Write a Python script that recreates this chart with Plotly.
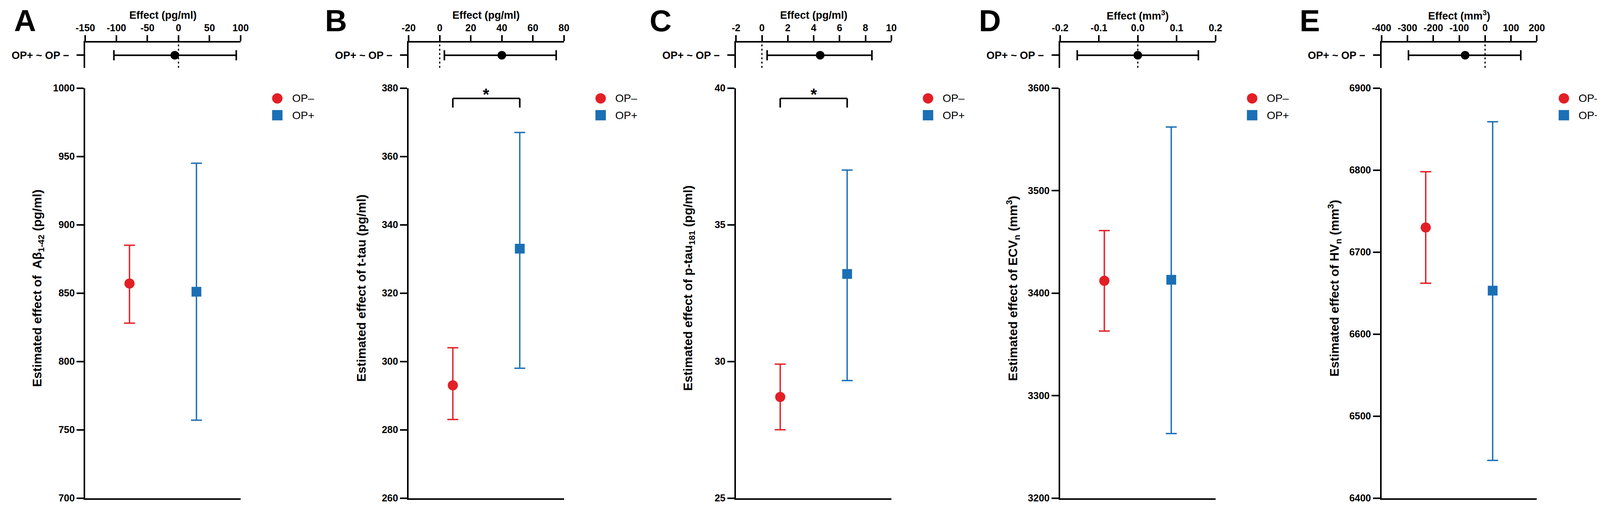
import plotly.graph_objects as go

W, H = 4153, 1306
# the page draws the plot a little in from the top-left corner,
# so positions measured on the reference are pulled back by this much
DX, DY = 12, 8
FONT = "Liberation Sans, Arial, sans-serif"
RED = "#e31f26"
BLUE = "#1b6fb5"

# panel data
panel_letters = ["A", "B", "C", "D", "E"]
effect_titles = ["Effect (pg/ml)", "Effect (pg/ml)", "Effect (pg/ml)",
                 "Effect (mm<sup>3</sup>)", "Effect (mm<sup>3</sup>)"]
y_titles = [
    "Estimated effect of  Aβ<sub>1-42</sub> (pg/ml)",
    "Estimated effect of t-tau (pg/ml)",
    "Estimated effect of p-tau<sub>181</sub> (pg/ml)",
    "Estimated effect of ECV<sub>n</sub> (mm<sup>3</sup>)",
    "Estimated effect of HV<sub>n</sub> (mm<sup>3</sup>)",
]
contrast_label = "OP+ ~ OP −"
group_labels = ["OP–", "OP+"]

# forest (difference) rows
effect_ticks = [
    [-150, -100, -50, 0, 50, 100],
    [-20, 0, 20, 40, 60, 80],
    [-2, 0, 2, 4, 6, 8, 10],
    [-0.2, -0.1, 0.0, 0.1, 0.2],
    [-400, -300, -200, -100, 0, 100, 200],
]
effect_est = [-6, 40, 4.5, 0.0, -77]
effect_ci_lo = [-104, 3, 0.4, -0.156, -296]
effect_ci_hi = [93, 75, 8.5, 0.156, 138]

# estimated means with 95% CI
opm_est = [857, 293, 28.7, 3412, 6730]
opm_lo = [828, 283, 27.5, 3363, 6662]
opm_hi = [885, 304, 29.9, 3461, 6798]
opp_est = [851, 333, 33.2, 3413, 6653]
opp_lo = [757, 298, 29.3, 3263, 6446]
opp_hi = [945, 367, 37.0, 3562, 6859]

y_ticks = [
    [700, 750, 800, 850, 900, 950, 1000],
    [260, 280, 300, 320, 340, 360, 380],
    [25, 30, 35, 40],
    [3200, 3300, 3400, 3500, 3600],
    [6400, 6500, 6600, 6700, 6800, 6900],
]
significant = [False, True, True, False, False]

# layout in reference pixels
axis_left = [199.5, 1036.5, 1884, 2723, 3555]
letter_left = [13, 818, 1658, 2511, 3341]
legend_gap = [95, 95, 95, 95, 70]   # last one pulled in so it stays on the page
AX_W = 402
FOREST_TOP, FOREST_BOT = 97, 163
MAIN_TOP, MAIN_BOT = 216, 1289


def fx(p):
    return (p - DX) / W


def fy(p):
    return 1 - (p - DY) / H


def fmt(v, dec):
    return f"{v:.1f}" if dec else f"{v:g}"


fig = go.Figure()
layout = {}
shapes = []
annotations = []

for i in range(5):
    kf, km = 2 * i + 1, 2 * i + 2
    xf = "x" if kf == 1 else f"x{kf}"
    yf = "y" if kf == 1 else f"y{kf}"
    xm, ym = f"x{km}", f"y{km}"
    ax = axis_left[i]
    dom = [fx(ax), fx(ax + AX_W)]
    dec = i == 3

    # forest plot of the contrast
    fig.add_trace(go.Scatter(
        x=[effect_est[i]], y=[0], mode="markers",
        marker=dict(color="black", size=22),
        error_x=dict(type="data", symmetric=False,
                     array=[effect_ci_hi[i] - effect_est[i]],
                     arrayminus=[effect_est[i] - effect_ci_lo[i]],
                     color="black", thickness=4, width=13),
        xaxis=xf, yaxis=yf, showlegend=False, cliponaxis=False,
    ))

    # group estimates
    fig.add_trace(go.Scatter(
        x=[1], y=[opm_est[i]], mode="markers", name=group_labels[0],
        marker=dict(color=RED, size=26, symbol="circle"),
        error_y=dict(type="data", symmetric=False,
                     array=[opm_hi[i] - opm_est[i]],
                     arrayminus=[opm_est[i] - opm_lo[i]],
                     color=RED, thickness=3.5, width=14),
        xaxis=xm, yaxis=ym, showlegend=False, cliponaxis=False,
    ))
    fig.add_trace(go.Scatter(
        x=[2], y=[opp_est[i]], mode="markers", name=group_labels[1],
        marker=dict(color=BLUE, size=25, symbol="square"),
        error_y=dict(type="data", symmetric=False,
                     array=[opp_hi[i] - opp_est[i]],
                     arrayminus=[opp_est[i] - opp_lo[i]],
                     color=BLUE, thickness=3.5, width=14),
        xaxis=xm, yaxis=ym, showlegend=False, cliponaxis=False,
    ))

    et = effect_ticks[i]
    layout["xaxis" if kf == 1 else f"xaxis{kf}"] = dict(
        domain=dom, range=[et[0], et[-1]], side="top", anchor=yf,
        showline=True, linewidth=4, linecolor="black",
        ticks="outside", ticklen=15, tickwidth=4, tickcolor="black",
        tickvals=et, ticktext=[fmt(v, dec) for v in et],
        tickfont=dict(family=FONT, size=25, color="black", weight="bold"),
        showgrid=False, zeroline=False,
    )
    layout["yaxis" if kf == 1 else f"yaxis{kf}"] = dict(
        domain=[fy(FOREST_BOT), fy(FOREST_TOP)], range=[-1, 1], anchor=xf,
        showline=True, linewidth=4, linecolor="black",
        ticks="outside", ticklen=18, tickwidth=4, tickcolor="black",
        tickvals=[0], ticktext=[contrast_label], ticklabelstandoff=14,
        tickfont=dict(family=FONT, size=27, color="black", weight="bold"),
        showgrid=False, zeroline=False,
    )
    layout[f"xaxis{km}"] = dict(
        domain=dom, range=[0.34, 2.66], anchor=ym,
        showline=True, linewidth=4, linecolor="black",
        ticks="", showticklabels=False, showgrid=False, zeroline=False,
    )
    yt = y_ticks[i]
    layout[f"yaxis{km}"] = dict(
        domain=[fy(MAIN_BOT), fy(MAIN_TOP)], range=[yt[0], yt[-1]], anchor=xm,
        showline=True, linewidth=4, linecolor="black",
        ticks="outside", ticklen=18, tickwidth=4, tickcolor="black",
        tickvals=yt, ticktext=[fmt(v, False) for v in yt],
        tickfont=dict(family=FONT, size=25, color="black", weight="bold"),
        showgrid=False, zeroline=False,
    )

    # dotted line of no effect
    shapes.append(dict(type="line", xref=xf, yref=f"{yf} domain",
                       x0=0, x1=0, y0=0, y1=1,
                       line=dict(color="black", width=3, dash="5px,6px")))

    # significance bracket
    if significant[i]:
        span = MAIN_BOT - MAIN_TOP
        top = 1 - 27 / span
        leg = 1 - 51 / span
        for x0, y0, x1, y1 in [(1, leg, 1, top), (1, top, 2, top), (2, top, 2, leg)]:
            shapes.append(dict(type="line", xref=xm, yref=f"{ym} domain",
                               x0=x0, x1=x1, y0=y0, y1=y1,
                               line=dict(color="black", width=4)))
        annotations.append(dict(xref=xm, yref=f"{ym} domain", x=1.5, y=1 - 16 / span,
                                text="*", showarrow=False, yanchor="middle",
                                font=dict(family=FONT, size=42, color="black", weight="bold")))

    # legend
    lx = ax + AX_W + legend_gap[i]
    for j, (cy, col, kind) in enumerate([(243, RED, "circle"), (287, BLUE, "rect")]):
        shapes.append(dict(type=kind, xref="paper", yref="paper",
                           x0=fx(lx - 13.5), x1=fx(lx + 13.5),
                           y0=fy(cy + 13.5), y1=fy(cy - 13.5),
                           fillcolor=col, line=dict(width=0)))
        annotations.append(dict(xref="paper", yref="paper", x=fx(lx + 36), y=fy(cy),
                                text=group_labels[j], showarrow=False,
                                xanchor="left", yanchor="middle",
                                font=dict(family=FONT, size=28, color="black")))

    # texts
    annotations.append(dict(xref="paper", yref="paper", x=fx(letter_left[i]), y=fy(40),
                            text=panel_letters[i], showarrow=False,
                            xanchor="left", yanchor="middle",
                            font=dict(family=FONT, size=78, color="black", weight="bold")))
    annotations.append(dict(xref="paper", yref="paper", x=fx(ax + AX_W / 2), y=fy(25),
                            text=effect_titles[i], showarrow=False,
                            xanchor="center", yanchor="middle",
                            font=dict(family=FONT, size=27, color="black", weight="bold")))
    annotations.append(dict(xref="paper", yref="paper", x=fx(ax - 122), y=fy(740),
                            text=y_titles[i], showarrow=False, textangle=-90,
                            xanchor="center", yanchor="middle",
                            font=dict(family=FONT, size=32, color="black", weight="bold")))

fig.update_layout(
    width=W, height=H,
    margin=dict(l=0, r=0, t=0, b=0),
    paper_bgcolor="white", plot_bgcolor="white",
    showlegend=False,
    shapes=shapes, annotations=annotations,
    **layout,
)

fig.write_html("out.html")
